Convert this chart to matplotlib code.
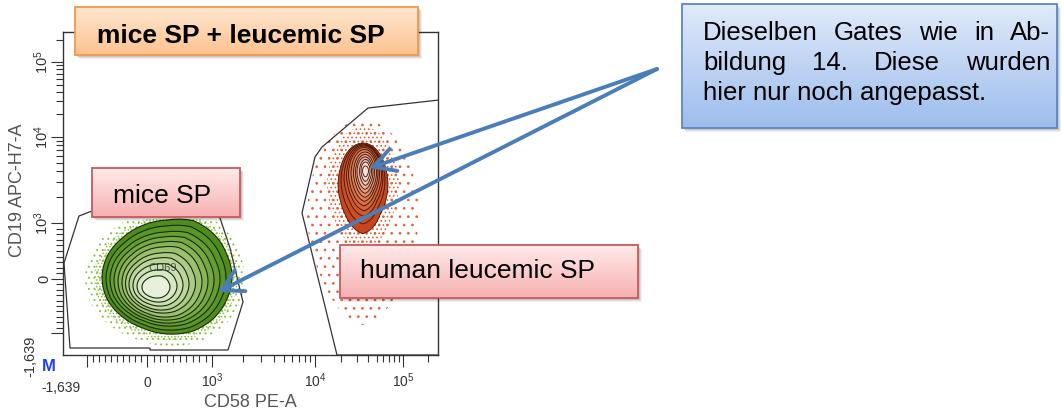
import matplotlib
matplotlib.use("Agg")
import matplotlib.pyplot as plt
import numpy as np
from matplotlib.patches import Polygon, Rectangle
from matplotlib.scale import FuncScale

plt.rcParams["font.family"] = ["Liberation Sans", "DejaVu Sans"]
plt.rcParams["mathtext.fontset"] = "custom"
plt.rcParams["mathtext.rm"] = "Liberation Sans"
plt.rcParams["mathtext.default"] = "regular"
plt.rcParams["hatch.linewidth"] = 0.7

# ---- axis (biexponential display, values -> display channels) ----
AXIS_MIN = -1639
AXIS_MAX = 262144
ANCHOR_VALUES = [-1639, -1000, 0, 1e3, 1e4, 1e5, 262144]
X_ANCHOR_CHANNELS = [0, 24, 84, 149, 252, 340, 375]
Y_ANCHOR_CHANNELS = [0, 22, 76, 132, 218, 293, 323]

MAJOR_TICKS = [-1000, 0, 1e3, 1e4, 1e5]
MAJOR_LABELS = ["", "0", "$10^3$", "$10^4$", "$10^5$"]
MINOR_TICKS = ([-v for v in range(100, 1000, 100)] + list(range(100, 1000, 100))
               + [k * 1e3 for k in range(2, 10)] + [k * 1e4 for k in range(2, 10)] + [2e5])

X_LABEL = "CD58 PE-A"
Y_LABEL = "CD19 APC-H7-A"

# ---- gates (display channels) ----
MICE_GATE_X = [1, 16, 29, 152, 167, 180, 165, 87, 87, 7]
MICE_GATE_Y = [92, 139, 144, 152, 107, 53, 5, 5, 7, 7]
HUMAN_GATE_X = [274, 239, 252, 259, 305, 376, 376]
HUMAN_GATE_Y = [0, 142, 198, 208, 247, 255, 0]

# ---- contour levels (outer -> inner), display channels ----
GREEN_CX = [104, 103, 102, 101, 100, 99, 97.5, 96, 95, 94, 93]
GREEN_CY = [78, 77, 76, 75, 74, 73, 72, 71, 70, 69, 68]
GREEN_RX = [65, 60, 55, 50, 45, 40, 35, 30, 25, 20, 14]
GREEN_RY = [57, 52, 47, 43, 39, 35, 30, 26, 21, 16, 11]
GREEN_SHAPE = [1.00, 1.00, 1.04, 1.07, 1.00, 0.98, 0.97, 0.99,
               1.00, 1.00, 0.98, 0.97, 1.00, 1.03, 1.02, 1.00]
GREEN_COLORS = ["#4e8c1c", "#5a9626", "#669f31", "#76a942", "#88b457", "#9bc06e",
                "#adcb86", "#bdd59d", "#cbdfb1", "#d8e7c4", "#e6f0da"]

RED_CX = [300, 300, 300.5, 301, 301, 301.5, 302, 302, 302, 302.5, 302.5, 302.5]
RED_CY = [170, 174, 177, 179, 180.5, 181.5, 182, 182.5, 183, 183.5, 184, 184]
RED_RX = [25, 22, 19.5, 17.5, 15.5, 13.5, 11.5, 9.5, 8, 6, 4.5, 3]
RED_RY = [42, 37, 33, 30, 27, 24, 21, 18, 15, 12, 9, 5]
RED_SHAPE = [1.00, 0.99, 1.00, 1.00, 1.00, 1.00, 1.00, 0.99,
             1.00, 0.98, 1.00, 1.08, 1.16, 1.08, 0.98, 0.98]
RED_COLORS = ["#c8461c", "#cc4e24", "#d0582e", "#d4633a", "#d87048", "#dc7e58",
              "#e08e6c", "#e5a084", "#eab29c", "#eec3b2", "#f2d3c6", "#f5ded5"]

# speckle halos (cx, cy, rx, ry)
GREEN_SPECKLE = [(102, 77, 80, 68), (103, 77, 72, 62)]
RED_SPECKLE = [(300, 140, 56, 95), (300, 170, 36, 58)]

# ---- annotations (figure pixels) ----
TITLE_TEXT = "mice SP + leucemic SP"
MICE_TEXT = "mice SP"
HUMAN_TEXT = "human leucemic SP"
NOTE_LINES = ["Dieselben Gates wie in Ab-", "bildung 14. Diese wurden", "hier nur noch angepasst."]


def to_t(v):
    v = np.asarray(v, dtype=float)
    a = np.abs(v)
    return np.where(a <= 1000, v / 1000, np.sign(v) * (1 + np.log10(np.maximum(a, 1000) / 1000)))


def from_t(t):
    t = np.asarray(t, dtype=float)
    a = np.abs(t)
    return np.where(a <= 1, t * 1000, np.sign(t) * 1000 * 10 ** (np.maximum(a, 1) - 1))


T_ANCHORS = to_t(ANCHOR_VALUES)


def interp_ext(x, xp, fp):
    x = np.atleast_1d(np.asarray(x, dtype=float))
    xp = np.asarray(xp, dtype=float)
    fp = np.asarray(fp, dtype=float)
    y = np.interp(x, xp, fp)
    lo = x < xp[0]
    hi = x > xp[-1]
    y[lo] = fp[0] + (x[lo] - xp[0]) * (fp[1] - fp[0]) / (xp[1] - xp[0])
    y[hi] = fp[-1] + (x[hi] - xp[-1]) * (fp[-1] - fp[-2]) / (xp[-1] - xp[-2])
    return y


def fwd_x(v):
    return interp_ext(to_t(v), T_ANCHORS, X_ANCHOR_CHANNELS)


def inv_x(c):
    return from_t(interp_ext(c, X_ANCHOR_CHANNELS, T_ANCHORS))


def fwd_y(v):
    return interp_ext(to_t(v), T_ANCHORS, Y_ANCHOR_CHANNELS)


def inv_y(c):
    return from_t(interp_ext(c, Y_ANCHOR_CHANNELS, T_ANCHORS))


def to_data(xs, ys):
    return np.column_stack([inv_x(xs), inv_y(ys)])


def ring(cx, cy, rx, ry, shape=None):
    ang = np.linspace(0, 2 * np.pi, 64, endpoint=False)
    m = np.ones_like(ang)
    if shape is not None:
        base = np.linspace(0, 2 * np.pi, len(shape), endpoint=False)
        m = np.interp(ang, base, shape, period=2 * np.pi)
    return to_data(cx + rx * m * np.cos(ang), cy + ry * m * np.sin(ang))


def gradient_box(ax, x0, y0, x1, y1, top, bottom, edge, lw=1.3, z=3):
    for k, a in ((4, 0.06), (3, 0.08), (2, 0.1)):
        ax.add_patch(Rectangle((x0 + k, y0 + k), x1 - x0, y1 - y0, color="black",
                               alpha=a, lw=0, zorder=z))
    top = np.array(matplotlib.colors.to_rgb(top))
    bottom = np.array(matplotlib.colors.to_rgb(bottom))
    f = np.linspace(0, 1, 64)[:, None, None]
    img = top * (1 - f) + bottom * f
    ax.imshow(img, extent=(x0, x1, y1, y0), aspect="auto", interpolation="bilinear", zorder=z + 0.1)
    ax.add_patch(Rectangle((x0, y0), x1 - x0, y1 - y0, fill=False, edgecolor=edge, lw=lw, zorder=z + 0.2))


fig = plt.figure(figsize=(10.62, 4.12), dpi=100)
W, H = 1062, 412
ax = fig.add_axes([63 / W, 57 / H, 375 / W, 323 / H])
ax.set_xscale(FuncScale(ax.xaxis, (fwd_x, inv_x)))
ax.set_yscale(FuncScale(ax.yaxis, (fwd_y, inv_y)))
ax.set_xlim(AXIS_MIN, AXIS_MAX)
ax.set_ylim(AXIS_MIN, AXIS_MAX)

# speckle (outlier events)
for (cx, cy, rx, ry), hatch in zip(GREEN_SPECKLE, ["...", "....."]):
    ax.add_patch(Polygon(ring(cx, cy, rx, ry, GREEN_SHAPE), fill=False, hatch=hatch,
                         edgecolor="#8cbf3f", lw=0, zorder=1))
for (cx, cy, rx, ry), hatch in zip(RED_SPECKLE, ["..", "...."]):
    ax.add_patch(Polygon(ring(cx, cy, rx, ry, RED_SHAPE), fill=False, hatch=hatch,
                         edgecolor="#e0603a", lw=0, zorder=1))

# contour levels
for cx, cy, rx, ry, c in zip(GREEN_CX, GREEN_CY, GREEN_RX, GREEN_RY, GREEN_COLORS):
    ax.add_patch(Polygon(ring(cx, cy, rx, ry, GREEN_SHAPE), facecolor=c,
                         edgecolor="#1a2a10", lw=0.8, zorder=2))
for cx, cy, rx, ry, c in zip(RED_CX, RED_CY, RED_RX, RED_RY, RED_COLORS):
    ax.add_patch(Polygon(ring(cx, cy, rx, ry, RED_SHAPE), facecolor=c,
                         edgecolor="#3a1206", lw=0.6, zorder=2))

# gates
ax.add_patch(Polygon(to_data(MICE_GATE_X, MICE_GATE_Y), fill=False, edgecolor="#333333",
                     lw=0.9, zorder=3))
ax.add_patch(Polygon(to_data(HUMAN_GATE_X, HUMAN_GATE_Y), fill=False, edgecolor="#333333",
                     lw=0.9, zorder=3))
gx, gy = to_data([100], [87])[0]
ax.text(gx, gy, "CD69", fontsize=8, color="#333333", alpha=0.8, ha="center", va="center", zorder=4)

# axes styling
for s in ax.spines.values():
    s.set_color("#333333")
    s.set_linewidth(1.0)
ax.set_xticks(MAJOR_TICKS, MAJOR_LABELS, va="baseline", fontsize=10, color="#333333")
ax.set_yticks(MAJOR_TICKS, MAJOR_LABELS, rotation=90, rotation_mode="anchor",
              ha="center", va="baseline", fontsize=10.5, color="#333333")
ax.set_xticks(MINOR_TICKS, minor=True)
ax.set_yticks(MINOR_TICKS, minor=True)
ax.tick_params(which="major", direction="out", length=8.6, width=0.8, color="#333333")
ax.tick_params(which="minor", direction="out", length=5, width=0.8, color="#333333")
ax.tick_params(axis="x", which="major", pad=14.4)
ax.tick_params(axis="y", which="major", pad=2.2)

ax.set_xlabel(X_LABEL, fontsize=13, color="#555555", va="center")
ax.xaxis.set_label_coords(0.499, -0.146)
ax.set_ylabel(Y_LABEL, fontsize=13, color="#555555", va="center")
ax.yaxis.set_label_coords(-0.12, 0.511)

ax.text(-0.005, -0.102, "-1,639", transform=ax.transAxes, fontsize=10, color="#333333",
        ha="center", va="center")
ax.text(-0.088, -0.003, "-1,639", transform=ax.transAxes, fontsize=10.5, color="#333333",
        ha="center", va="center", rotation=90)
ax.text(-0.037, -0.037, "M", transform=ax.transAxes, fontsize=12, color="#1f3fff",
        fontweight="bold", ha="center", va="center")

# overlay in figure pixels
ov = fig.add_axes([0, 0, 1, 1], zorder=5)
ov.set_xlim(0, W)
ov.set_ylim(H, 0)
ov.axis("off")

gradient_box(ov, 75, 7, 418, 55, "#fee6d0", "#fbc38f", "#f79646")
ov.text(97, 43, TITLE_TEXT, fontsize=19, fontweight="bold", color="black", va="baseline", zorder=4)

gradient_box(ov, 92, 168, 240, 217, "#ffeaea", "#f6b0b0", "#c9585a")
ov.text(113, 203, MICE_TEXT, fontsize=19, color="black", va="baseline", zorder=4)

gradient_box(ov, 340, 245, 638, 298, "#ffeaea", "#f6b0b0", "#c9585a")
ov.text(360, 278, HUMAN_TEXT, fontsize=19, color="black", va="baseline", zorder=4)

gradient_box(ov, 682, 4, 1057, 128, "#e0eafa", "#9dbdec", "#5b86c5")
renderer = fig.canvas.get_renderer()
x_left, x_right = 703, 1050
for i, line in enumerate(NOTE_LINES):
    y = 40 + 30 * i
    words = line.split()
    if i == len(NOTE_LINES) - 1:
        ov.text(x_left, y, line, fontsize=18.5, va="baseline", zorder=4)
        continue
    texts = [ov.text(0, y, w, fontsize=18.5, va="baseline", zorder=4) for w in words]
    widths = [t.get_window_extent(renderer).width for t in texts]
    gap = (x_right - x_left - sum(widths)) / (len(words) - 1)
    x = x_left
    for t, w in zip(texts, widths):
        t.set_x(x)
        x += w + gap

start = (657, 69)
for tip in [(370, 168), (218, 292)]:
    ov.annotate("", xy=tip, xytext=start, zorder=6,
                arrowprops=dict(arrowstyle="->,head_length=0.75,head_width=0.42",
                                mutation_scale=20, lw=2.8, color="#4a7ebb",
                                shrinkA=0, shrinkB=0))

fig.savefig("out.png", dpi=100)
